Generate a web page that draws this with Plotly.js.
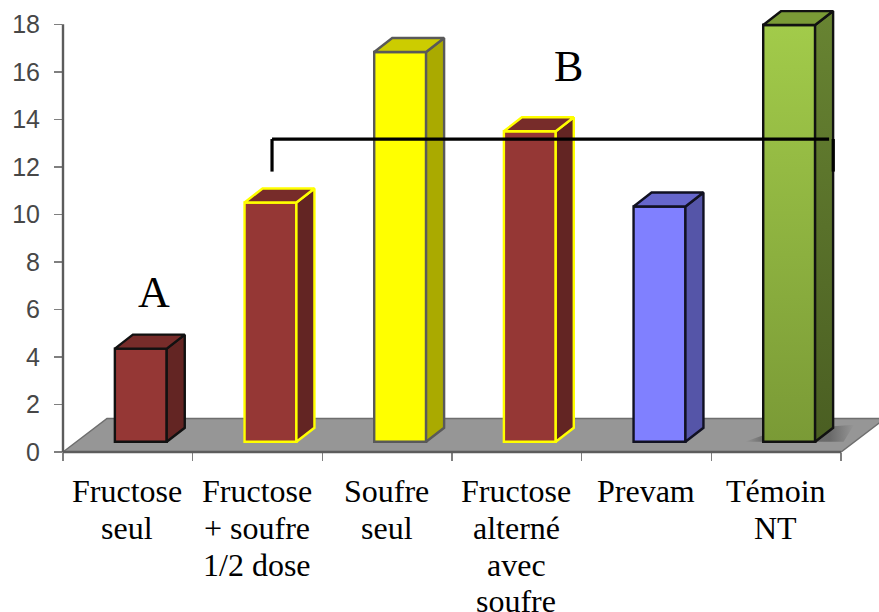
<!DOCTYPE html>
<html>
<head>
<meta charset="utf-8">
<script src="https://cdn.plot.ly/plotly-3.0.1.min.js"></script>
<style>html,body{margin:0;padding:0;background:#fff;overflow:hidden}</style>
</head>
<body>
<div id="chart" style="width:879px;height:612px"></div>
<script>
// Treatment groups, one array of label lines per group
const categories = [
  ['Fructose', 'seul'],
  ['Fructose', '+ soufre', '1/2 dose'],
  ['Soufre', 'seul'],
  ['Fructose', 'alterné', 'avec', 'soufre'],
  ['Prevam'],
  ['Témoin', 'NT']
];
const values = [3.92, 10.07, 16.4, 13.07, 9.9, 17.54];

const frontColors = ['#953735', '#953735', '#ffff00', '#953735', '#8080ff', '#8caf40'];
const sideColors  = ['#632523', '#632523', '#aaaa00', '#632523', '#5555a8', '#5d752b'];
const topColors   = ['#772c2a', '#772c2a', '#cccc00', '#772c2a', '#6666cc', '#7a9a36'];
const edgeColors  = ['#111111', '#ffff00', '#595959', '#ffff00', '#111122', '#111111'];
const yTicks = [0, 2, 4, 6, 8, 10, 12, 14, 16, 18];

// Oblique projection of the 3-D columns, in axis units
const depthX = 0.139, depthY = 0.589, columnShift = 0.1, columnWidth = 0.4, columnBase = 0.43;
// The axes stop at 18 and 6; the ranges run a little further so column tops and the shadow fit
const yTop = 18, yMax = 18.6, xEnd = 6, xMax = 6.1;
const edgeWidth = 2.4;

const centers = values.map((_, i) => i + 0.5 + columnShift);
const traces = [{
  type: 'bar',
  x: centers,
  y: values,
  base: values.map(() => columnBase),
  width: columnWidth,
  marker: {color: frontColors, line: {color: edgeColors, width: edgeWidth}},
  hoverinfo: 'skip',
  showlegend: false
}];

function face(xs, ys, fill, edge, gradient) {
  const t = {
    type: 'scatter', mode: 'lines', x: xs, y: ys, fill: 'toself',
    fillcolor: fill, line: {color: edge, width: edgeWidth},
    hoverinfo: 'skip', showlegend: false
  };
  if (gradient) t.fillgradient = gradient;
  return t;
}

// Soft shadow on the floor, around the foot of the last column
const last = values.length - 1;
traces.push({
  type: 'scatter', mode: 'lines',
  x: [centers[last] - 0.34, centers[last] - 0.1, centers[last] + 0.5, centers[last] + 0.42, centers[last] - 0.34],
  y: [columnBase, 0.9, 1.15, columnBase, columnBase],
  fill: 'toself', fillcolor: 'rgba(60,60,60,0.3)', line: {width: 0},
  fillgradient: {type: 'horizontal', colorscale: [
    [0, 'rgba(70,70,70,0)'], [0.16, 'rgba(70,70,70,0.5)'],
    [0.78, 'rgba(70,70,70,0.55)'], [1, 'rgba(70,70,70,0)']
  ]},
  hoverinfo: 'skip', showlegend: false
});

values.forEach((v, i) => {
  const l = centers[i] - columnWidth / 2, r = centers[i] + columnWidth / 2;
  const top = columnBase + v;
  const isGreen = i === last;
  // Shaded front of the last column sits over its flat bar
  if (isGreen) {
    traces.push(face([l, r, r, l, l], [columnBase, columnBase, top, top, columnBase],
      frontColors[i], edgeColors[i],
      {type: 'vertical', colorscale: [[0, '#7a9a36'], [1, '#a2cb4a']]}));
  }
  traces.push(face(
    [r, r + depthX, r + depthX, r, r],
    [columnBase, columnBase + depthY, top + depthY, top, columnBase],
    sideColors[i], edgeColors[i],
    isGreen ? {type: 'vertical', colorscale: [[0, '#4a5e22'], [1, '#688432']]} : null));
  traces.push(face(
    [l, r, r + depthX, l + depthX, l],
    [top, top, top + depthY, top + depthY, top],
    topColors[i], edgeColors[i]));
});

// Floor plane, expressed as fractions of the plot area
const plotW = 791, plotH = 442.3;
const floorDepthX = 44 / plotW, floorDepthY = 33.5 / plotH, xAxisEnd = xEnd / xMax;
const floorPath = 'M 0 0 L ' + floorDepthX + ' ' + floorDepthY +
  ' L ' + (xAxisEnd + floorDepthX) + ' ' + floorDepthY + ' L ' + xAxisEnd + ' 0 Z';

const serif = '"Liberation Serif", "Times New Roman", serif';
const annotations = [];
categories.forEach((lines, i) => {
  lines.forEach((text, k) => {
    annotations.push({
      text, xref: 'x', yref: 'paper', x: i + 0.5 - 0.005, y: 0,
      xanchor: 'center', yanchor: 'top', yshift: -(19.3 + 36.6 * k),
      showarrow: false, font: {family: serif, size: 32, color: '#000000'}
    });
  });
});
annotations.push(
  {text: 'A', xref: 'x', yref: 'y', x: 0.705, y: 6.72, showarrow: false,
   font: {family: serif, size: 44, color: '#000000'}},
  {text: 'B', xref: 'x', yref: 'y', x: 3.895, y: 16.24, showarrow: false,
   font: {family: serif, size: 44, color: '#000000'}}
);

const bracket = {color: '#000000', width: 3.2};
const axisLine = {color: '#5c5c5c', width: 2.4};
const shapes = [
  {type: 'path', xref: 'paper', yref: 'paper', layer: 'below', path: floorPath,
   fillcolor: '#969696', line: {color: '#6e6e6e', width: 1.5}},
  // Axis lines, ending at the last tick of each axis
  {type: 'line', xref: 'paper', yref: 'paper', x0: 0, x1: 0, y0: 0, y1: yTop / yMax, line: axisLine},
  {type: 'line', xref: 'paper', yref: 'paper', x0: 0, x1: xAxisEnd, y0: 0, y1: 0, line: axisLine},
  // Bracket grouping the columns under letter B
  {type: 'line', xref: 'x', yref: 'y', x0: 1.612, x1: 1.612, y0: 11.8, y1: 13.17, line: bracket},
  {type: 'line', xref: 'x', yref: 'y', x0: 1.612, x1: 5.908, y0: 13.17, y1: 13.17, line: bracket},
  {type: 'line', xref: 'x', yref: 'y', x0: 5.94, x1: 5.94, y0: 11.8, y1: 13.17, line: bracket}
];

const layout = {
  width: 879, height: 612,
  margin: {l: 63, r: 25, t: 10, b: 159.7, pad: 0},
  paper_bgcolor: '#ffffff', plot_bgcolor: 'rgba(0,0,0,0)',
  showlegend: false,
  xaxis: {
    type: 'linear', range: [0, xMax], tickmode: 'array',
    tickvals: [0, 1, 2, 3, 4, 5, 6], showticklabels: false,
    ticks: 'outside', ticklen: 8, tickwidth: 1.5, tickcolor: '#7f7f7f',
    showgrid: false, zeroline: false, showline: false
  },
  yaxis: {
    range: [0, yMax], tickmode: 'array', tickvals: yTicks,
    ticks: 'outside', ticklen: 8, tickwidth: 1.5, tickcolor: '#7f7f7f',
    ticklabelstandoff: 9,
    tickfont: {family: '"Liberation Sans", Arial, sans-serif', size: 25, color: '#474747'},
    showgrid: false, zeroline: false, showline: false
  },
  shapes, annotations
};

Plotly.newPlot('chart', traces, layout, {displayModeBar: false, staticPlot: true});
</script>
</body>
</html>
